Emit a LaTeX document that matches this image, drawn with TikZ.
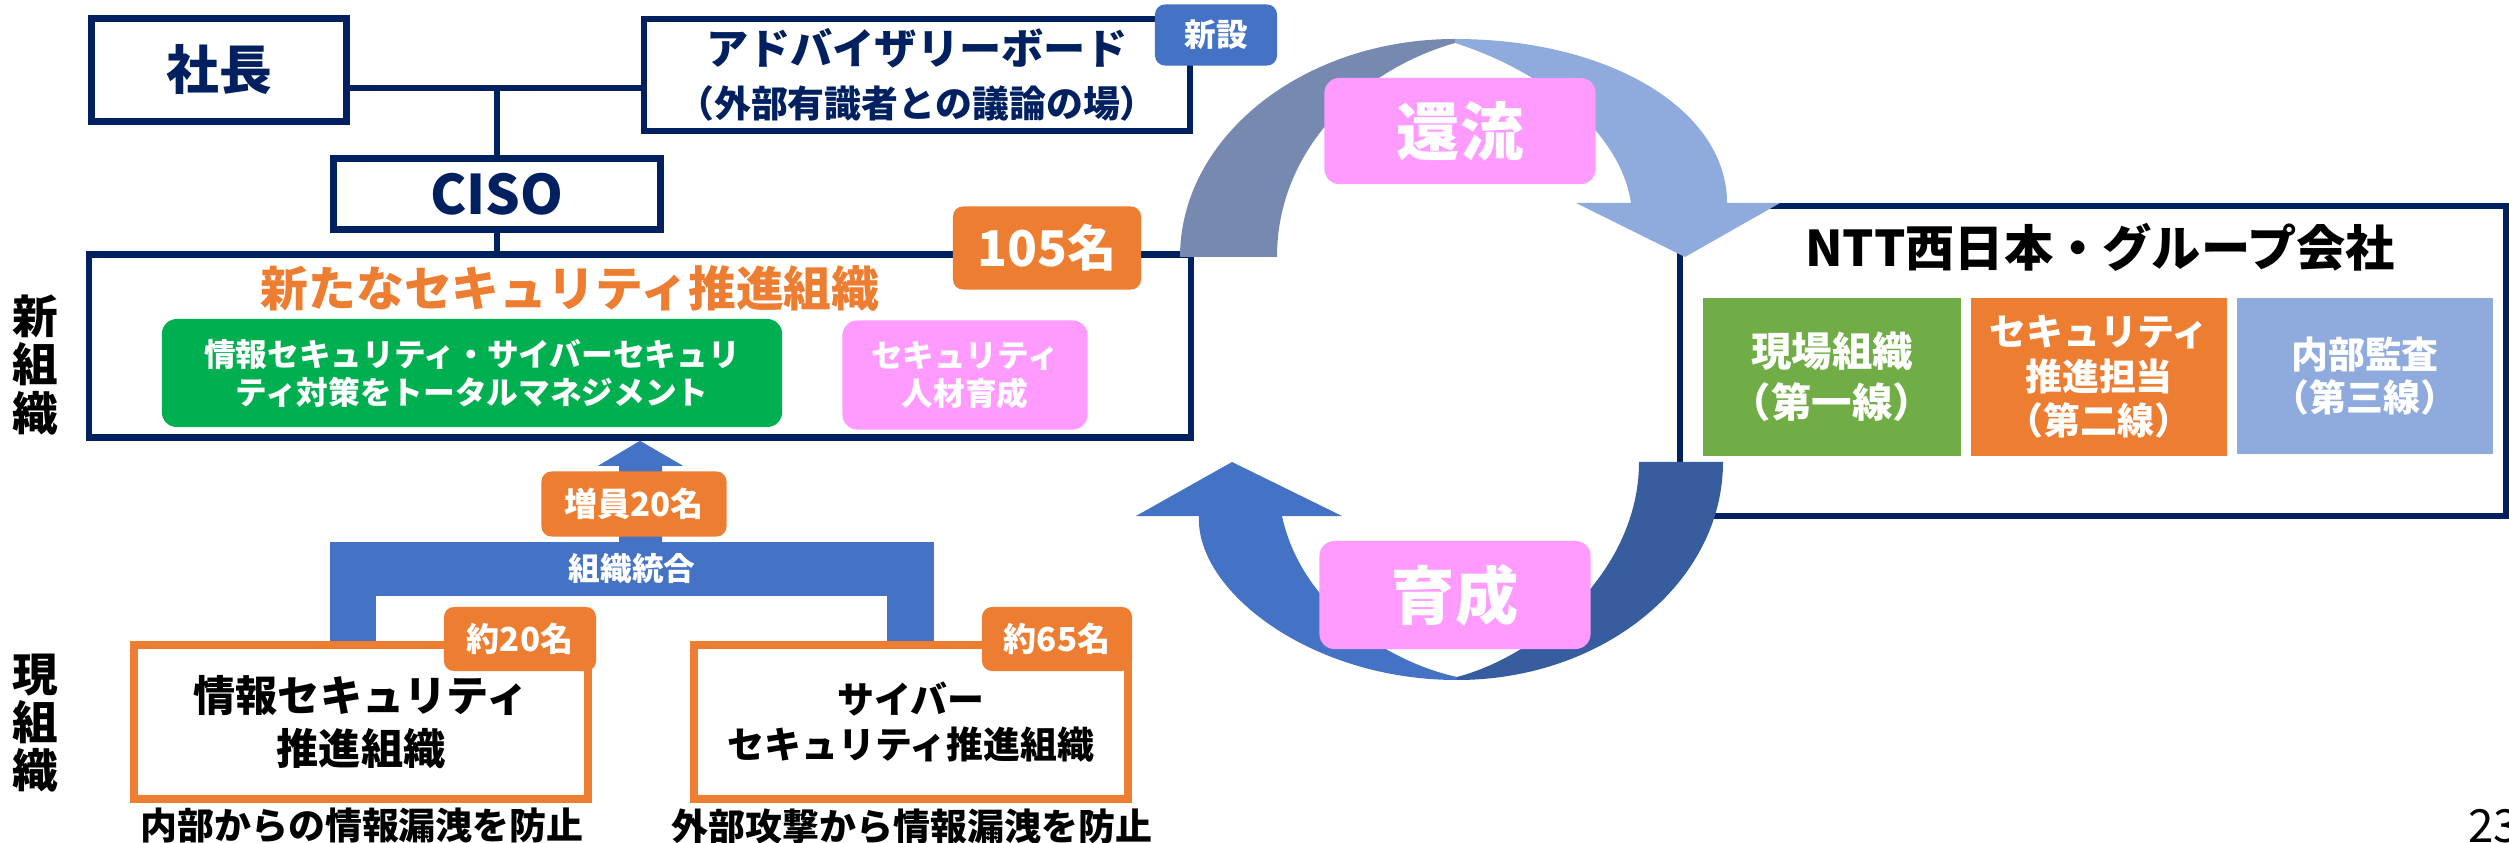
\documentclass[tikz,border=0pt]{standalone}
\usepackage{fontspec}
\setmainfont{Noto Sans CJK JP}
\definecolor{navyline}{HTML}{002060}
\definecolor{accorange}{HTML}{ED7D31}
\definecolor{accgreen}{HTML}{00B050}
\definecolor{accpink}{HTML}{FF9BFF}
\definecolor{accblue}{HTML}{4472C4}
\definecolor{fieldgreen}{HTML}{70AD47}
\definecolor{auditblue}{HTML}{8FAADC}
\definecolor{flowgray}{HTML}{7589B1}
\definecolor{flowdark}{HTML}{375D9E}
\newcommand{\fsz}[2]{\fontsize{#1pt}{#2pt}\selectfont}

\begin{document}
\begin{tikzpicture}[x=0.01cm,y=-0.01cm]
    \tikzstyle{navybox}=[draw=navyline,line width=0.065cm,fill=white,text=navyline,align=center,inner sep=0pt];
    \tikzstyle{tag}=[rounded corners=0.1cm,text=white,align=center,inner sep=0pt];
    \tikzstyle{orgbox}=[draw=accorange,line width=0.08cm,fill=white,align=center,inner sep=0pt];
    \tikzstyle{tile}=[text=white,align=center,inner sep=0pt];
    \tikzstyle{sidelabel}=[font=\bfseries\fsz{13}{13.7},align=center];
    \useasboundingbox (0,0) rectangle (2509,843);

    \node[navybox,minimum width=2.55cm,minimum height=1.03cm,font=\bfseries\fsz{15}{18}] (shacho) at (219,70) {社長};
    \node[navybox,minimum width=5.46cm,minimum height=1.12cm,font=\bfseries\fsz{12}{15}] (board) at (917,75) {アドバイザリーボード\\{\fsz{10.5}{15}（外部有識者との議論の場）}};
    \node[tag,fill=accblue,minimum width=1.22cm,minimum height=0.61cm,font=\bfseries\fsz{9}{11}] (newtag) at (1216,35) {新設};
    \node[navybox,minimum width=3.27cm,minimum height=0.71cm,font=\bfseries\fsz{15.5}{18}] (ciso) at (497,194) {CISO};
    \node[draw=navyline,line width=0.065cm,minimum width=11.01cm,minimum height=1.83cm] (neworg) at (640,346) {};
    \coordinate (jn) at (497,88);
    \draw[navyline,line width=0.065cm] (jn -| shacho.east) -- (jn -| board.west);
    \draw[navyline,line width=0.065cm] (jn) -- (ciso.north);
    \draw[navyline,line width=0.065cm] (ciso.south) -- (ciso.south |- neworg.north);

    \node[text=accorange,font=\bfseries\fsz{13.6}{16}] (newtitle) at (570,288) {新たなセキュリティ推進組織};
    \node[tile,fill=accgreen,rounded corners=0.15cm,minimum width=6.2cm,minimum height=1.08cm,font=\bfseries\fsz{9}{10.8}] (mgmt) at (472,373) {情報セキュリティ・サイバーセキュリ\\ティ対策をトータルマネジメント};
    \node[tile,fill=accpink,rounded corners=0.15cm,minimum width=2.45cm,minimum height=1.09cm,font=\bfseries\fsz{9}{10.8}] (jinzai) at (965,375) {セキュリティ\\人材育成};
    \node[tag,fill=accorange,minimum width=1.88cm,minimum height=0.83cm,font=\bfseries\fsz{14}{16}] (tag105) at (1047,248) {105名};
    \node[sidelabel] (newlbl) at (35,365) {新\\組\\織};
    \node[sidelabel] (curlbl) at (35,723) {現\\組\\織};

    \node[orgbox,minimum width=4.54cm,minimum height=1.53cm,font=\bfseries\fsz{12}{15}] (cur1) at (361,722) {情報セキュリティ\\推進組織};
    \node[orgbox,minimum width=4.34cm,minimum height=1.53cm,font=\bfseries\fsz{10.5}{12.8}] (cur2) at (911,722) {サイバー\\セキュリティ推進組織};
    \node[fill=accblue,text=white,minimum width=6.03cm,minimum height=0.54cm,inner sep=0pt,outer sep=0pt,font=\bfseries\fsz{9}{11}] (merge) at (632,569) {組織統合};
    \fill[accblue] (merge.south west) rectangle ([xshift=0.46cm]merge.south west |- cur1.north);
    \fill[accblue] (merge.south east) rectangle ([xshift=-0.47cm]merge.south east |- cur2.north);
    \fill[accblue] (neworg.south) -- ++(43,25) -- ++(-21,0) -- ++(0,80) -- ++(-43,0) -- ++(0,-80) -- ++(-21,0) -- cycle;
    \node[tag,fill=accorange,minimum width=1.85cm,minimum height=0.65cm,font=\bfseries\fsz{9.4}{11}] (tag20up) at (634,504) {増員20名};
    \node[tag,fill=accorange,minimum width=1.52cm,minimum height=0.64cm,font=\bfseries\fsz{9.4}{11}] (tag20) at (520,639) {約20名};
    \node[tag,fill=accorange,minimum width=1.5cm,minimum height=0.64cm,font=\bfseries\fsz{9.4}{11}] (tag65) at (1057,639) {約65名};
    \node[font=\bfseries\fsz{10.5}{12}] (cap1) at (362,826) {内部からの情報漏洩を防止};
    \node[font=\bfseries\fsz{10.5}{12}] (cap2) at (912,826) {外部攻撃から情報漏洩を防止};

    \node[draw=navyline,line width=0.06cm,fill=white,minimum width=8.25cm,minimum height=3.1cm] (ntt) at (2093,361) {};
    \node[font=\bfseries\fsz{14}{16}] (ntttitle) at (2100,247) {NTT西日本・グループ会社};
    \node[tile,fill=fieldgreen,minimum width=2.57cm,minimum height=1.57cm,font=\bfseries\fsz{11.5}{14.5}] (line1) at (1832,377) {現場組織\\（第一線）};
    \node[tile,fill=accorange,minimum width=2.55cm,minimum height=1.57cm,font=\bfseries\fsz{10.5}{12.7}] (line2) at (2099,377) {セキュリティ\\推進担当\\（第二線）};
    \node[tile,fill=auditblue,minimum width=2.56cm,minimum height=1.56cm,font=\bfseries\fsz{10.5}{12.2}] (line3) at (2365,376) {内部監査\\（第三線）};

    \fill[flowgray] (1180,257) .. controls (1180,137) and (1303,39) .. (1455,39) -- (1455,43) .. controls (1360,70) and (1277,150) .. (1277,257) -- cycle;
    \fill[auditblue] (1455,39) .. controls (1610,39) and (1727,110) .. (1727,203) -- (1780,203) -- (1685,257) -- (1576,203) -- (1631,203) .. controls (1620,130) and (1540,70) .. (1455,43) -- cycle;
    \fill[accblue] (1457,680) .. controls (1310,680) and (1195,590) .. (1199,516) -- (1136,516) -- (1232,462) -- (1342,516) -- (1282,516) .. controls (1300,600) and (1380,660) .. (1457,677) -- cycle;
    \fill[flowdark] (1723,462) .. controls (1723,582) and (1604,680) .. (1457,680) -- (1457,677) .. controls (1540,655) and (1639,570) .. (1639,462) -- cycle;
    \node[tile,fill=accpink,rounded corners=0.15cm,minimum width=2.71cm,minimum height=1.06cm,font=\bfseries\fsz{18}{20}] (kanryu) at (1460,131) {還流};
    \node[tile,fill=accpink,rounded corners=0.15cm,minimum width=2.71cm,minimum height=1.08cm,font=\bfseries\fsz{18}{20}] (ikusei) at (1455,595) {育成};

    \node[anchor=base west,font=\fsz{13}{15}] (pagenum) at (2456,842) {23};
\end{tikzpicture}
\end{document}
